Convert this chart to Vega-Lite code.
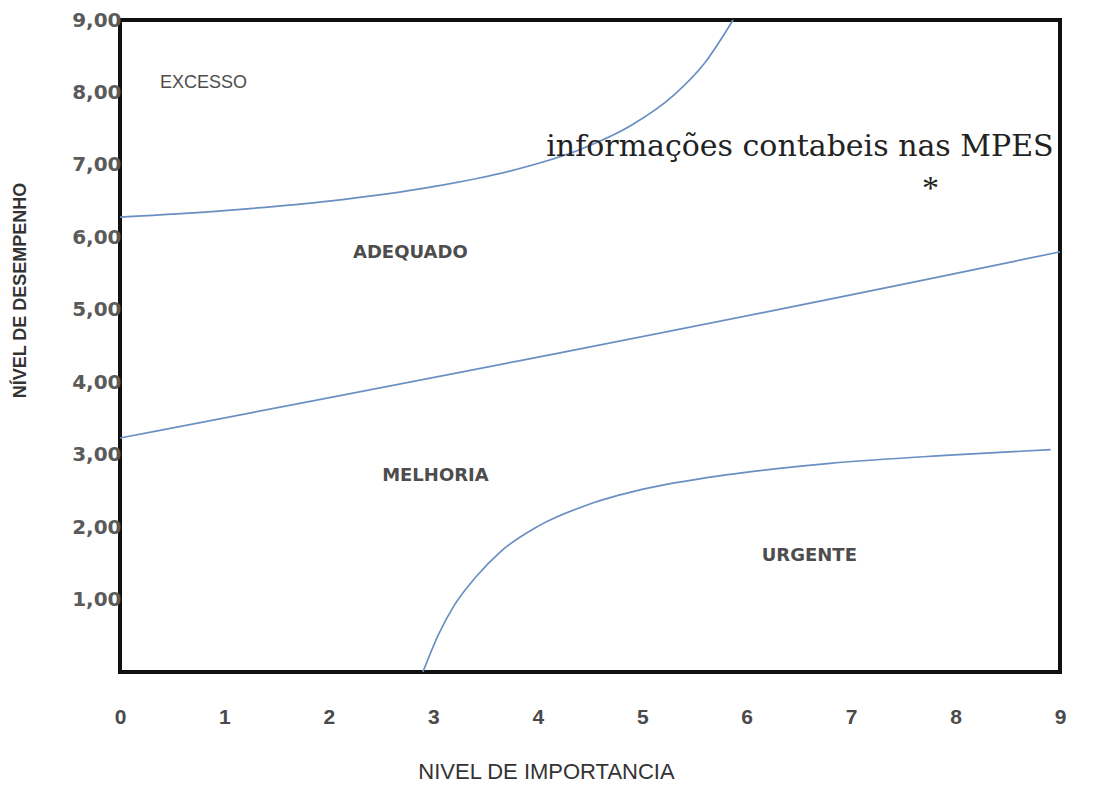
{
  "$schema": "https://vega.github.io/schema/vega-lite/v6.json",
  "autosize": {"type": "none"},
  "width": 940,
  "height": 652,
  "padding": {"left": 120, "top": 20, "right": 46, "bottom": 113},
  "background": "white",
  "config": {
    "view": {"stroke": "#111", "strokeWidth": 4},
    "axis": {"grid": false, "ticks": false, "domain": false}
  },
  "datasets": {
    "curves": [
      {"curve": "superior", "ord": 1, "x": 0.0, "y": 6.28},
      {"curve": "superior", "ord": 2, "x": 1.0, "y": 6.37},
      {"curve": "superior", "ord": 3, "x": 2.0, "y": 6.5},
      {"curve": "superior", "ord": 4, "x": 3.0, "y": 6.7},
      {"curve": "superior", "ord": 5, "x": 3.8, "y": 6.94},
      {"curve": "superior", "ord": 6, "x": 4.4, "y": 7.21},
      {"curve": "superior", "ord": 7, "x": 4.9, "y": 7.55},
      {"curve": "superior", "ord": 8, "x": 5.3, "y": 7.96},
      {"curve": "superior", "ord": 9, "x": 5.6, "y": 8.41},
      {"curve": "superior", "ord": 10, "x": 5.87, "y": 9.0},
      {"curve": "meio", "ord": 1, "x": 0.0, "y": 3.23},
      {"curve": "meio", "ord": 2, "x": 8.4, "y": 5.62},
      {"curve": "meio", "ord": 3, "x": 9.0, "y": 5.8},
      {"curve": "inferior", "ord": 1, "x": 2.9, "y": 0.0},
      {"curve": "inferior", "ord": 2, "x": 3.05, "y": 0.52},
      {"curve": "inferior", "ord": 3, "x": 3.2, "y": 0.92},
      {"curve": "inferior", "ord": 4, "x": 3.4, "y": 1.3},
      {"curve": "inferior", "ord": 5, "x": 3.65, "y": 1.67},
      {"curve": "inferior", "ord": 6, "x": 4.0, "y": 2.01},
      {"curve": "inferior", "ord": 7, "x": 4.5, "y": 2.32},
      {"curve": "inferior", "ord": 8, "x": 5.0, "y": 2.52},
      {"curve": "inferior", "ord": 9, "x": 5.8, "y": 2.72},
      {"curve": "inferior", "ord": 10, "x": 6.8, "y": 2.88},
      {"curve": "inferior", "ord": 11, "x": 7.9, "y": 2.99},
      {"curve": "inferior", "ord": 12, "x": 8.91, "y": 3.07}
    ],
    "zones": [
      {"label": "EXCESSO", "kind": "narrow", "x": 0.8, "y": 8.13},
      {"label": "ADEQUADO", "kind": "bold", "x": 2.78, "y": 5.79},
      {"label": "MELHORIA", "kind": "bold", "x": 3.02, "y": 2.71},
      {"label": "URGENTE", "kind": "bold", "x": 6.6, "y": 1.6}
    ],
    "notes": [
      {"label": "informações contabeis nas MPES", "x": 6.51, "y": 7.12}
    ],
    "stars": [
      {"label": "*", "x": 7.76, "y": 6.53}
    ]
  },
  "encoding": {
    "x": {
      "field": "x", "type": "quantitative",
      "scale": {"domain": [0, 9], "nice": false, "zero": false},
      "axis": {
        "values": [0, 1, 2, 3, 4, 5, 6, 7, 8, 9],
        "title": "NIVEL DE IMPORTANCIA",
        "labelFont": "Liberation Sans Narrow, Liberation Sans",
        "labelFontSize": 21, "labelFontWeight": "bold", "labelColor": "#4a4a4a", "labelPadding": 34,
        "labelFlush": false,
        "titleFont": "Liberation Sans", "titleFontSize": 22, "titleFontWeight": "normal",
        "titleColor": "#333", "titleX": 426, "titleY": 106,
        "titleAlign": "center", "titleBaseline": "alphabetic"
      }
    },
    "y": {
      "field": "y", "type": "quantitative",
      "scale": {"domain": [0, 9], "nice": false, "zero": false},
      "axis": {
        "values": [1, 2, 3, 4, 5, 6, 7, 8, 9],
        "labelExpr": "replace(format(datum.value, '.2f'), '.', ',')",
        "title": "NÍVEL DE DESEMPENHO",
        "labelFont": "DejaVu Sans", "labelFontSize": 20, "labelFontWeight": "bold",
        "labelColor": "#5a5a5a", "labelPadding": -1, "labelFlush": false,
        "titleFont": "Liberation Sans", "titleFontSize": 18, "titleFontWeight": "bold",
        "titleColor": "#333", "titleX": -100, "titleY": 270, "titleAngle": 270,
        "titleAlign": "center", "titleBaseline": "middle"
      }
    }
  },
  "layer": [
    {
      "data": {"name": "curves"},
      "mark": {"type": "line", "interpolate": "monotone", "color": "#6a8fc2", "strokeWidth": 1.7},
      "encoding": {
        "detail": {"field": "curve"},
        "order": {"field": "ord", "type": "quantitative"}
      }
    },
    {
      "data": {"name": "zones"},
      "transform": [{"filter": "datum.kind === 'bold'"}],
      "mark": {"type": "text", "font": "DejaVu Sans", "fontSize": 18, "fontWeight": "bold", "color": "#4d4d4d", "align": "center", "baseline": "middle"},
      "encoding": {"text": {"field": "label"}}
    },
    {
      "data": {"name": "zones"},
      "transform": [{"filter": "datum.kind === 'narrow'"}],
      "mark": {"type": "text", "font": "Liberation Sans Narrow, Liberation Sans", "fontSize": 18, "color": "#4d4d4d", "align": "center", "baseline": "middle"},
      "encoding": {"text": {"field": "label"}}
    },
    {
      "data": {"name": "notes"},
      "mark": {"type": "text", "font": "DejaVu Serif", "fontSize": 30, "color": "#222", "align": "center", "baseline": "alphabetic"},
      "encoding": {"text": {"field": "label"}}
    },
    {
      "data": {"name": "stars"},
      "mark": {"type": "text", "font": "Liberation Serif", "fontSize": 34, "color": "#222", "align": "center", "baseline": "alphabetic"},
      "encoding": {"text": {"field": "label"}}
    }
  ]
}
